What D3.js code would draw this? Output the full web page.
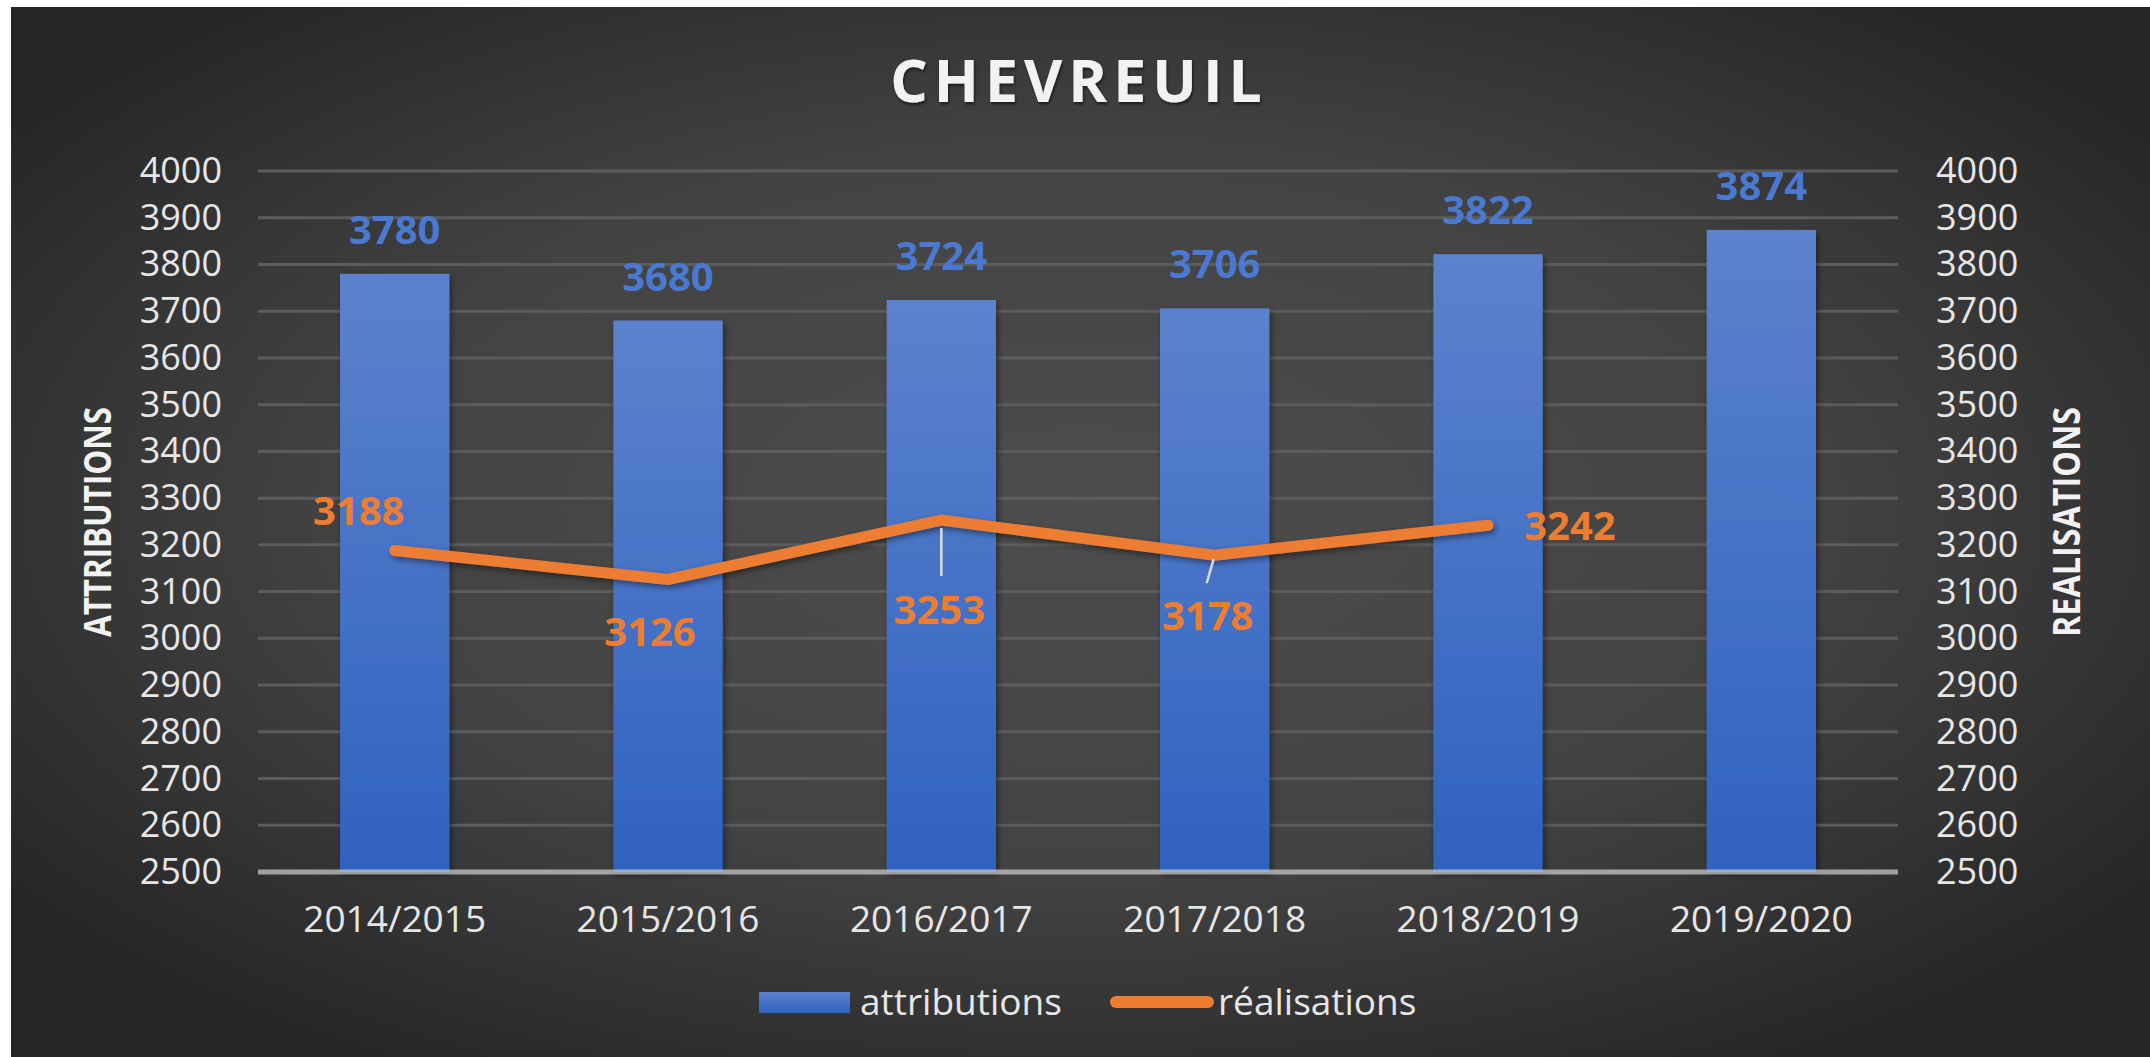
<!DOCTYPE html>
<html>
<head>
<meta charset="utf-8">
<script src="https://cdn.jsdelivr.net/npm/d3@7"></script>
<style>
  html, body { margin: 0; padding: 0; background: #ffffff; }
  svg { display: block; }
  text { font-family: 'Open Sans', 'Noto Sans', sans-serif; }
</style>
</head>
<body>
<div id="chart"></div>
<script>
// chart values
const seasons = ['2014/2015', '2015/2016', '2016/2017', '2017/2018', '2018/2019', '2019/2020'];
const attributions = [3780, 3680, 3724, 3706, 3822, 3874];
const realisations = [3188, 3126, 3253, 3178, 3242];
const yTicks = [2500, 2600, 2700, 2800, 2900, 3000, 3100, 3200, 3300, 3400, 3500, 3600, 3700, 3800, 3900, 4000];
const legendLabels = ['attributions', 'réalisations'];

// where each orange label sits relative to its point (Excel moved them by hand)
const realLabelOffsets = [[-36, -40], [-18, 52], [-2, 90], [-7, 60], [82, 0]];
const leaderLines = [null, null, [0, 8, 0, 56], [-1, 4, -8, 28], null];

const W = 2150, H = 1057;
const plot = { left: 258, right: 1898, top: 171, bottom: 872 };

const svg = d3.select('#chart').append('svg')
  .attr('width', W)
  .attr('height', H);

const defs = svg.append('defs');

const bg = defs.append('radialGradient')
  .attr('id', 'bg')
  .attr('cx', '50%').attr('cy', '48%').attr('r', '62%')
  .attr('fx', '50%').attr('fy', '48%');
bg.append('stop').attr('offset', '0%').attr('stop-color', '#4d4d4d');
bg.append('stop').attr('offset', '55%').attr('stop-color', '#434343');
bg.append('stop').attr('offset', '100%').attr('stop-color', '#262626');

const barGrad = defs.append('linearGradient')
  .attr('id', 'barGrad')
  .attr('x1', 0).attr('y1', 0).attr('x2', 0).attr('y2', 1);
barGrad.append('stop').attr('offset', '0%').attr('stop-color', '#5c82cd');
barGrad.append('stop').attr('offset', '100%').attr('stop-color', '#2f62c0');

const shadow = defs.append('filter').attr('id', 'shadow')
  .attr('x', '-20%').attr('y', '-20%').attr('width', '140%').attr('height', '140%');
shadow.append('feDropShadow')
  .attr('dx', 2).attr('dy', 3).attr('stdDeviation', 3)
  .attr('flood-color', '#000').attr('flood-opacity', 0.45);

const txtShadow = defs.append('filter').attr('id', 'txtShadow');
txtShadow.append('feDropShadow')
  .attr('dx', 1).attr('dy', 2).attr('stdDeviation', 1.5)
  .attr('flood-color', '#000').attr('flood-opacity', 0.6);

// dark panel
svg.append('rect')
  .attr('x', 11).attr('y', 7)
  .attr('width', W - 11).attr('height', H - 7)
  .attr('fill', 'url(#bg)');

const x = d3.scaleBand()
  .domain(seasons)
  .range([plot.left, plot.right])
  .paddingInner(0.6)
  .paddingOuter(0.3);

const y = d3.scaleLinear()
  .domain([2500, 4000])
  .range([plot.bottom, plot.top]);

// secondary axis has the same range
const y2 = d3.scaleLinear()
  .domain([2500, 4000])
  .range([plot.bottom, plot.top]);

// gridlines
svg.append('g')
  .selectAll('line')
  .data(yTicks.slice(1))
  .enter().append('line')
  .attr('x1', plot.left).attr('x2', plot.right)
  .attr('y1', d => y(d)).attr('y2', d => y(d))
  .attr('stroke', '#5c5c5c')
  .attr('stroke-width', 3);

// bars
svg.append('g')
  .selectAll('rect')
  .data(attributions)
  .enter().append('rect')
  .attr('x', (d, i) => x(seasons[i]))
  .attr('y', d => y(d))
  .attr('width', x.bandwidth())
  .attr('height', d => y(2500) - y(d))
  .attr('fill', 'url(#barGrad)')
  .attr('filter', 'url(#shadow)');

// base line
svg.append('line')
  .attr('x1', plot.left).attr('x2', plot.right)
  .attr('y1', y(2500)).attr('y2', y(2500))
  .attr('stroke', '#d0d0d0')
  .attr('stroke-opacity', 0.7)
  .attr('stroke-width', 5);

// left axis
const leftAxis = svg.append('g')
  .attr('transform', 'translate(' + plot.left + ',0)')
  .call(d3.axisLeft(y).tickValues(yTicks).tickSize(0).tickPadding(36).tickFormat(d3.format('d')));
leftAxis.select('.domain').remove();
leftAxis.selectAll('text')
  .attr('fill', '#e6e6e6')
  .attr('font-size', 36);

// right axis
const rightAxis = svg.append('g')
  .attr('transform', 'translate(' + plot.right + ',0)')
  .call(d3.axisRight(y2).tickValues(yTicks).tickSize(0).tickPadding(38).tickFormat(d3.format('d')));
rightAxis.select('.domain').remove();
rightAxis.selectAll('text')
  .attr('fill', '#e6e6e6')
  .attr('font-size', 36);

// bottom axis
const bottomAxis = svg.append('g')
  .attr('transform', 'translate(0,' + plot.bottom + ')')
  .call(d3.axisBottom(x).tickSize(0).tickPadding(34));
bottomAxis.select('.domain').remove();
bottomAxis.selectAll('text')
  .attr('fill', '#e6e6e6')
  .attr('font-size', 37);

// bar labels
svg.append('g')
  .selectAll('text')
  .data(attributions)
  .enter().append('text')
  .attr('x', (d, i) => x(seasons[i]) + x.bandwidth() / 2)
  .attr('y', d => y(d) - 30)
  .attr('text-anchor', 'middle')
  .attr('font-size', 40)
  .attr('font-weight', 'bold')
  .attr('fill', '#4a79d2')
  .text(d => d);

// realisations line
const cx = i => x(seasons[i]) + x.bandwidth() / 2;
const line = d3.line()
  .x((d, i) => cx(i))
  .y(d => y2(d));

svg.append('path')
  .datum(realisations)
  .attr('d', line)
  .attr('fill', 'none')
  .attr('stroke', '#ed7d31')
  .attr('stroke-width', 11)
  .attr('stroke-linecap', 'round')
  .attr('filter', 'url(#shadow)');

// leader lines
realisations.forEach((d, i) => {
  const l = leaderLines[i];
  if (!l) return;
  svg.append('line')
    .attr('x1', cx(i) + l[0]).attr('y1', y2(d) + l[1])
    .attr('x2', cx(i) + l[2]).attr('y2', y2(d) + l[3])
    .attr('stroke', '#dcdcdc')
    .attr('stroke-width', 2.5);
});

// realisations labels
svg.append('g')
  .selectAll('text')
  .data(realisations)
  .enter().append('text')
  .attr('x', (d, i) => cx(i) + realLabelOffsets[i][0])
  .attr('y', (d, i) => y2(d) + realLabelOffsets[i][1])
  .attr('dy', '0.36em')
  .attr('text-anchor', 'middle')
  .attr('font-size', 40)
  .attr('font-weight', 'bold')
  .attr('fill', '#ed7d31')
  .text(d => d);

// title
svg.append('text')
  .attr('x', 1079)
  .attr('y', 102)
  .attr('text-anchor', 'middle')
  .attr('font-size', 59)
  .attr('font-weight', 'bold')
  .attr('letter-spacing', 6)
  .attr('fill', '#f2f2f2')
  .attr('filter', 'url(#txtShadow)')
  .text('CHEVREUIL');

// axis titles
svg.append('text')
  .attr('transform', 'translate(111,522) rotate(-90)')
  .attr('text-anchor', 'middle')
  .attr('font-size', 38)
  .attr('font-weight', 'bold')
  .attr('textLength', 230)
  .attr('lengthAdjust', 'spacingAndGlyphs')
  .attr('fill', '#f2f2f2')
  .text('ATTRIBUTIONS');

svg.append('text')
  .attr('transform', 'translate(2080,522) rotate(-90)')
  .attr('text-anchor', 'middle')
  .attr('font-size', 38)
  .attr('font-weight', 'bold')
  .attr('textLength', 230)
  .attr('lengthAdjust', 'spacingAndGlyphs')
  .attr('fill', '#f2f2f2')
  .text('REALISATIONS');

// legend
const legend = svg.append('g');
legend.append('rect')
  .attr('x', 759).attr('y', 992)
  .attr('width', 91).attr('height', 21)
  .attr('fill', 'url(#barGrad)');
legend.append('text')
  .attr('x', 860).attr('y', 1002)
  .attr('dy', '0.35em')
  .attr('font-size', 37)
  .attr('fill', '#e6e6e6')
  .text(legendLabels[0]);
legend.append('line')
  .attr('x1', 1116).attr('x2', 1208)
  .attr('y1', 1002).attr('y2', 1002)
  .attr('stroke', '#ed7d31')
  .attr('stroke-width', 12)
  .attr('stroke-linecap', 'round');
legend.append('text')
  .attr('x', 1218).attr('y', 1002)
  .attr('dy', '0.35em')
  .attr('font-size', 37)
  .attr('fill', '#e6e6e6')
  .text(legendLabels[1]);
</script>
</body>
</html>
